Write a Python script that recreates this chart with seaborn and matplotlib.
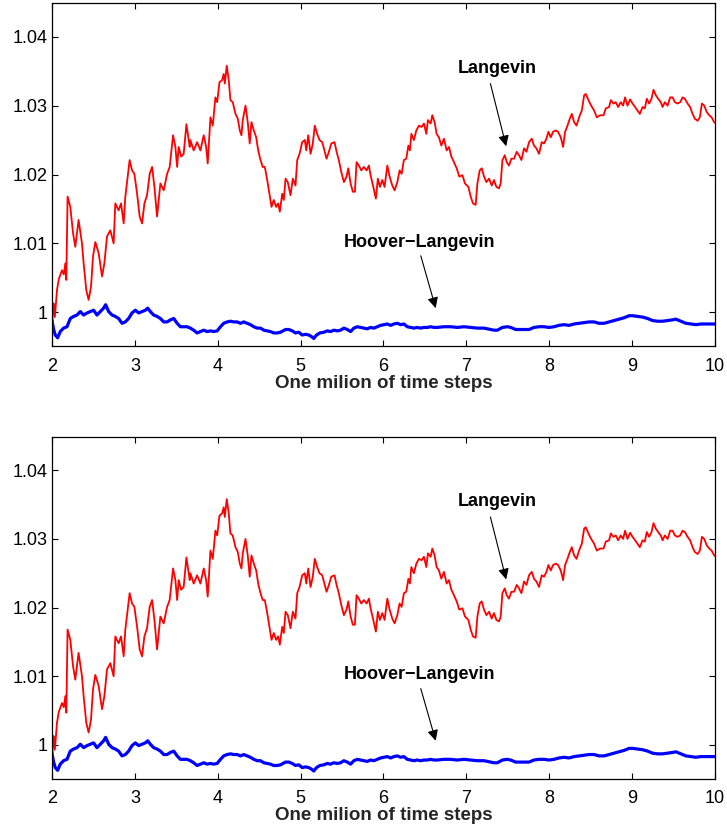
import matplotlib
matplotlib.use("Agg")
import matplotlib.pyplot as plt
import seaborn as sns
import pandas as pd

# ---------------- data ----------------
langevin_x = [2.000, 2.010, 2.019, 2.034, 2.046, 2.060, 2.082, 2.121, 2.143, 2.161, 2.173, 2.188,
              2.221, 2.254, 2.281, 2.321, 2.362, 2.382, 2.414, 2.442, 2.471, 2.495, 2.523, 2.563,
              2.604, 2.632, 2.664, 2.704, 2.744, 2.764, 2.804, 2.833, 2.865, 2.885, 2.913, 2.937,
              2.966, 2.994, 3.027, 3.058, 3.087, 3.115, 3.147, 3.179, 3.208, 3.236, 3.268, 3.308,
              3.348, 3.389, 3.420, 3.461, 3.489, 3.510, 3.529, 3.558, 3.589, 3.622, 3.662, 3.670,
              3.710, 3.751, 3.791, 3.831, 3.860, 3.879, 3.912, 3.940, 3.972, 3.993, 4.021, 4.053,
              4.072, 4.085, 4.109, 4.133, 4.153, 4.181, 4.214, 4.242, 4.266, 4.286, 4.302, 4.335,
              4.362, 4.386, 4.407, 4.435, 4.464, 4.488, 4.516, 4.543, 4.568, 4.597, 4.624, 4.649,
              4.676, 4.705, 4.729, 4.749, 4.778, 4.797, 4.818, 4.845, 4.878, 4.906, 4.938, 4.959,
              4.987, 5.019, 5.051, 5.068, 5.092, 5.120, 5.147, 5.171, 5.200, 5.228, 5.261, 5.292,
              5.313, 5.341, 5.370, 5.409, 5.434, 5.461, 5.490, 5.522, 5.554, 5.575, 5.603, 5.630,
              5.655, 5.675, 5.703, 5.732, 5.763, 5.796, 5.824, 5.844, 5.877, 5.908, 5.932, 5.957,
              5.986, 6.013, 6.046, 6.074, 6.106, 6.134, 6.167, 6.194, 6.219, 6.246, 6.275, 6.300,
              6.319, 6.336, 6.367, 6.396, 6.428, 6.460, 6.488, 6.517, 6.536, 6.569, 6.589, 6.617,
              6.641, 6.669, 6.698, 6.729, 6.762, 6.790, 6.819, 6.850, 6.883, 6.915, 6.952, 6.983,
              7.024, 7.052, 7.080, 7.112, 7.133, 7.161, 7.185, 7.213, 7.242, 7.274, 7.306, 7.333,
              7.362, 7.394, 7.414, 7.435, 7.463, 7.487, 7.514, 7.543, 7.575, 7.608, 7.635, 7.664,
              7.696, 7.725, 7.756, 7.789, 7.816, 7.845, 7.877, 7.909, 7.937, 7.966, 7.990, 8.018,
              8.046, 8.078, 8.106, 8.139, 8.167, 8.191, 8.220, 8.248, 8.272, 8.300, 8.329, 8.360,
              8.393, 8.421, 8.441, 8.473, 8.501, 8.541, 8.574, 8.613, 8.655, 8.682, 8.722, 8.743,
              8.775, 8.803, 8.831, 8.863, 8.891, 8.915, 8.944, 8.976, 9.005, 9.036, 9.065, 9.093,
              9.126, 9.153, 9.177, 9.205, 9.234, 9.258, 9.286, 9.314, 9.346, 9.367, 9.395, 9.428,
              9.459, 9.488, 9.516, 9.548, 9.580, 9.609, 9.636, 9.669, 9.700, 9.729, 9.757, 9.790,
              9.817, 9.842, 9.870, 9.899, 9.930, 9.959, 9.990, 10.000]
langevin_y = [0.9955, 1.0005, 1.0013, 0.9993, 1.0010, 1.0032, 1.0048, 1.0061, 1.0055, 1.0071, 1.0047, 1.0168,
              1.0153, 1.0115, 1.0095, 1.0134, 1.0100, 1.0071, 1.0032, 1.0018, 1.0037, 1.0081, 1.0102, 1.0086,
              1.0052, 1.0071, 1.0110, 1.0119, 1.0100, 1.0158, 1.0148, 1.0158, 1.0129, 1.0168, 1.0197, 1.0221,
              1.0206, 1.0201, 1.0172, 1.0139, 1.0129, 1.0158, 1.0170, 1.0201, 1.0211, 1.0182, 1.0139, 1.0187,
              1.0177, 1.0201, 1.0211, 1.0257, 1.0240, 1.0211, 1.0240, 1.0226, 1.0230, 1.0273, 1.0240, 1.0250,
              1.0235, 1.0247, 1.0235, 1.0257, 1.0240, 1.0216, 1.0283, 1.0271, 1.0312, 1.0305, 1.0334, 1.0337,
              1.0346, 1.0332, 1.0358, 1.0337, 1.0308, 1.0305, 1.0288, 1.0281, 1.0264, 1.0257, 1.0279, 1.0300,
              1.0276, 1.0245, 1.0276, 1.0264, 1.0254, 1.0235, 1.0221, 1.0211, 1.0211, 1.0192, 1.0172, 1.0153,
              1.0163, 1.0153, 1.0158, 1.0146, 1.0172, 1.0163, 1.0194, 1.0189, 1.0170, 1.0194, 1.0184, 1.0221,
              1.0230, 1.0247, 1.0250, 1.0235, 1.0257, 1.0230, 1.0245, 1.0271, 1.0259, 1.0250, 1.0247, 1.0233,
              1.0223, 1.0233, 1.0245, 1.0247, 1.0233, 1.0221, 1.0204, 1.0189, 1.0197, 1.0209, 1.0187, 1.0175,
              1.0175, 1.0218, 1.0213, 1.0206, 1.0211, 1.0206, 1.0213, 1.0199, 1.0182, 1.0165, 1.0194, 1.0182,
              1.0192, 1.0182, 1.0213, 1.0197, 1.0184, 1.0177, 1.0189, 1.0206, 1.0201, 1.0221, 1.0223, 1.0242,
              1.0235, 1.0259, 1.0250, 1.0264, 1.0271, 1.0269, 1.0274, 1.0259, 1.0279, 1.0274, 1.0286, 1.0276,
              1.0259, 1.0254, 1.0242, 1.0252, 1.0235, 1.0240, 1.0226, 1.0218, 1.0209, 1.0197, 1.0199, 1.0187,
              1.0182, 1.0168, 1.0158, 1.0156, 1.0187, 1.0206, 1.0209, 1.0197, 1.0189, 1.0194, 1.0184, 1.0192,
              1.0182, 1.0180, 1.0187, 1.0221, 1.0228, 1.0218, 1.0213, 1.0223, 1.0223, 1.0233, 1.0228, 1.0221,
              1.0238, 1.0233, 1.0247, 1.0252, 1.0242, 1.0238, 1.0230, 1.0247, 1.0245, 1.0252, 1.0262, 1.0254,
              1.0262, 1.0264, 1.0262, 1.0254, 1.0240, 1.0262, 1.0271, 1.0281, 1.0288, 1.0276, 1.0271, 1.0283,
              1.0293, 1.0315, 1.0317, 1.0308, 1.0301, 1.0293, 1.0283, 1.0286, 1.0286, 1.0296, 1.0298, 1.0308,
              1.0303, 1.0305, 1.0298, 1.0305, 1.0300, 1.0312, 1.0300, 1.0309, 1.0303, 1.0298, 1.0293, 1.0288,
              1.0298, 1.0296, 1.0310, 1.0303, 1.0310, 1.0323, 1.0315, 1.0310, 1.0305, 1.0298, 1.0305, 1.0300,
              1.0312, 1.0312, 1.0305, 1.0303, 1.0305, 1.0312, 1.0310, 1.0303, 1.0298, 1.0288, 1.0281, 1.0278,
              1.0283, 1.0303, 1.0300, 1.0291, 1.0286, 1.0283, 1.0276, 1.0275]

hoover_x = [2.000, 2.020, 2.040, 2.068, 2.100, 2.140, 2.181, 2.221, 2.261, 2.302, 2.342, 2.382,
            2.423, 2.463, 2.502, 2.543, 2.583, 2.623, 2.647, 2.684, 2.725, 2.764, 2.804, 2.845,
            2.885, 2.925, 2.966, 3.006, 3.046, 3.087, 3.127, 3.155, 3.187, 3.227, 3.268, 3.308,
            3.348, 3.389, 3.429, 3.469, 3.510, 3.550, 3.589, 3.630, 3.670, 3.710, 3.751, 3.791,
            3.831, 3.872, 3.912, 3.952, 3.993, 4.033, 4.072, 4.113, 4.153, 4.193, 4.234, 4.274,
            4.314, 4.355, 4.395, 4.435, 4.476, 4.516, 4.556, 4.597, 4.636, 4.676, 4.717, 4.757,
            4.818, 4.858, 4.899, 4.938, 4.978, 5.019, 5.059, 5.099, 5.128, 5.159, 5.192, 5.232,
            5.280, 5.321, 5.361, 5.401, 5.442, 5.482, 5.522, 5.563, 5.603, 5.642, 5.684, 5.723,
            5.763, 5.804, 5.844, 5.884, 5.925, 5.965, 6.005, 6.046, 6.086, 6.126, 6.167, 6.207,
            6.246, 6.287, 6.327, 6.367, 6.408, 6.448, 6.488, 6.529, 6.569, 6.609, 6.650, 6.729,
            6.810, 6.891, 6.971, 7.052, 7.133, 7.213, 7.294, 7.333, 7.374, 7.435, 7.495, 7.535,
            7.595, 7.635, 7.696, 7.756, 7.816, 7.877, 7.937, 7.998, 8.058, 8.118, 8.179, 8.239,
            8.300, 8.360, 8.420, 8.481, 8.541, 8.601, 8.662, 8.722, 8.783, 8.843, 8.903, 8.964,
            9.005, 9.065, 9.126, 9.186, 9.246, 9.307, 9.367, 9.428, 9.488, 9.528, 9.589, 9.649,
            9.710, 9.770, 9.830, 9.891, 9.952, 10.000]
hoover_y = [0.9988, 0.9975, 0.9967, 0.9963, 0.9972, 0.9977, 0.9979, 0.9991, 0.9994, 0.9996, 1.0001, 0.9996,
            0.9999, 1.0001, 1.0003, 0.9996, 1.0001, 1.0006, 1.0011, 1.0001, 0.9996, 0.9994, 0.9991, 0.9984,
            0.9986, 0.9991, 0.9999, 1.0003, 0.9999, 1.0001, 1.0003, 1.0006, 1.0001, 0.9996, 0.9994, 0.9991,
            0.9986, 0.9986, 0.9989, 0.9991, 0.9984, 0.9979, 0.9979, 0.9979, 0.9977, 0.9974, 0.9970, 0.9972,
            0.9974, 0.9972, 0.9973, 0.9972, 0.9973, 0.9979, 0.9984, 0.9986, 0.9987, 0.9986, 0.9986, 0.9984,
            0.9986, 0.9984, 0.9982, 0.9979, 0.9977, 0.9977, 0.9974, 0.9973, 0.9972, 0.9970, 0.9970, 0.9971,
            0.9975, 0.9975, 0.9973, 0.9970, 0.9971, 0.9967, 0.9968, 0.9967, 0.9965, 0.9962, 0.9967, 0.9970,
            0.9971, 0.9973, 0.9972, 0.9974, 0.9973, 0.9974, 0.9977, 0.9975, 0.9972, 0.9977, 0.9979, 0.9978,
            0.9977, 0.9976, 0.9978, 0.9977, 0.9979, 0.9981, 0.9982, 0.9983, 0.9981, 0.9983, 0.9984, 0.9982,
            0.9983, 0.9979, 0.9978, 0.9977, 0.9978, 0.9977, 0.9978, 0.9978, 0.9979, 0.9978, 0.9978, 0.9979,
            0.9979, 0.9978, 0.9979, 0.9978, 0.9977, 0.9977, 0.9975, 0.9974, 0.9974, 0.9978, 0.9979, 0.9978,
            0.9975, 0.9975, 0.9975, 0.9975, 0.9978, 0.9979, 0.9979, 0.9978, 0.9979, 0.9981, 0.9982, 0.9981,
            0.9983, 0.9984, 0.9985, 0.9986, 0.9986, 0.9984, 0.9984, 0.9986, 0.9988, 0.9990, 0.9992, 0.9995,
            0.9995, 0.9994, 0.9993, 0.9991, 0.9988, 0.9987, 0.9987, 0.9988, 0.9989, 0.9990, 0.9987, 0.9984,
            0.9983, 0.9982, 0.9983, 0.9983, 0.9983, 0.9983]

x_ticks = [2, 3, 4, 5, 6, 7, 8, 9, 10]
y_ticks = [1.00, 1.01, 1.02, 1.03, 1.04]
y_tick_labels = ["1", "1.01", "1.02", "1.03", "1.04"]
x_label = "One milion of time steps"
label_langevin = "Langevin"
label_hoover = "Hoover\u2212Langevin"

# ---------------- styling ----------------
sns.set_theme(style="white")
plt.rcParams["font.family"] = ["Liberation Sans", "DejaVu Sans"]

df_l = pd.DataFrame({"x": langevin_x, "y": langevin_y})
df_h = pd.DataFrame({"x": hoover_x, "y": hoover_y})

fig = plt.figure(figsize=(7.27, 8.31), dpi=100)
ax_top = fig.add_axes([0.0715, 0.5836, 0.912, 0.4128])
ax_bot = fig.add_axes([0.0715, 0.0631, 0.912, 0.4115])

for ax in (ax_top, ax_bot):
    sns.lineplot(data=df_h, x="x", y="y", color="#0000ff", linewidth=2.3,
                 estimator=None, sort=False, ax=ax)
    sns.lineplot(data=df_l, x="x", y="y", color="#ff0000", linewidth=1.3,
                 estimator=None, sort=False, ax=ax)
    ax.set_xlim(2, 10)
    ax.set_ylim(0.9951, 1.0449)
    ax.set_xticks(x_ticks)
    ax.set_xticklabels([str(t) for t in x_ticks])
    ax.set_yticks(y_ticks)
    ax.set_yticklabels(y_tick_labels)
    ax.tick_params(direction="in", length=4.5, width=0.8, colors="black",
                   labelsize=13, top=True, right=True, bottom=True, left=True)
    ax.tick_params(axis="x", pad=8.5)
    ax.tick_params(axis="y", pad=3)
    for s in ax.spines.values():
        s.set_visible(True)
        s.set_color("black")
        s.set_linewidth(0.9)
    ax.set_xlabel(x_label, fontsize=13.5, fontweight="bold", labelpad=0)
    ax.set_ylabel("")
    ax.set_facecolor("white")

    ax.text(7.37, 1.0354, label_langevin, ha="center", va="center",
            fontsize=13, fontweight="bold", color="black")
    ax.annotate("", xy=(7.48, 1.0241), xytext=(7.29, 1.0332),
                arrowprops=dict(arrowstyle="-|>", color="black", lw=0.8,
                                mutation_scale=16, shrinkA=0, shrinkB=0))
    ax.text(6.43, 1.0102, label_hoover, ha="center", va="center",
            fontsize=13, fontweight="bold", color="black")
    ax.annotate("", xy=(6.63, 1.0006), xytext=(6.45, 1.0082),
                arrowprops=dict(arrowstyle="-|>", color="black", lw=0.8,
                                mutation_scale=16, shrinkA=0, shrinkB=0))

fig.savefig("out.png", dpi=100, facecolor="white")
